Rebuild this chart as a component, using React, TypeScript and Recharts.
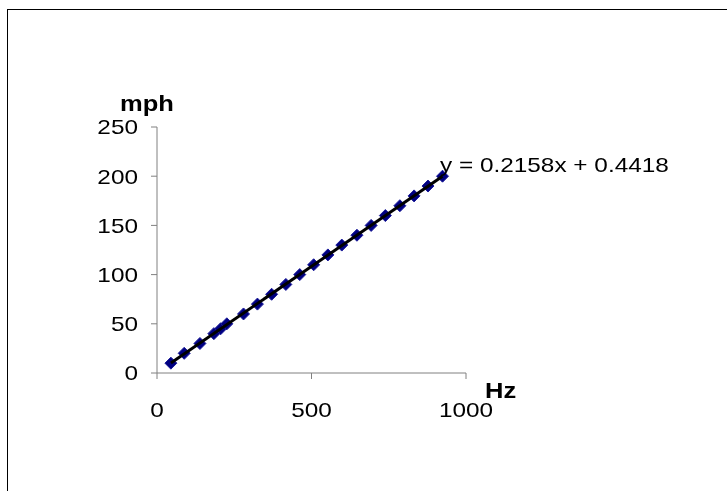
import React from 'react';
import { ScatterChart, Scatter, XAxis, YAxis } from 'recharts';

const hzValues = [45, 88, 139, 184, 206, 226, 280, 325, 371, 417, 462, 507, 553, 598, 647, 693, 739, 786, 832, 877, 924];
const mphValues = [10, 20, 30, 40, 45, 50, 60, 70, 80, 90, 100, 110, 120, 130, 140, 150, 160, 170, 180, 190, 200];
const xTicks = [0, 500, 1000];
const yTicks = [0, 50, 100, 150, 200, 250];
const trendSlope = 0.2158;
const trendIntercept = 0.4418;
const equationText = 'y = 0.2158x + 0.4418';
const xTitle = 'Hz';
const yTitle = 'mph';

const points = hzValues.map((x, i) => ({ x, y: mphValues[i] }));
const xMin = Math.min(...hzValues);
const xMax = Math.max(...hzValues);
const trend = [
  { x: xMin, y: trendSlope * xMin + trendIntercept },
  { x: xMax, y: trendSlope * xMax + trendIntercept },
];

const FONT = '"Liberation Sans", Arial, sans-serif';
const SX = 1.16;

const Diamond = (p: any) => {
  const { cx, cy } = p;
  if (cx == null || cy == null) return <g />;
  const r = 6;
  return (
    <polygon
      points={`${cx},${cy - r} ${cx + r},${cy} ${cx},${cy + r} ${cx - r},${cy}`}
      fill="#000080"
      stroke="#1a1a99"
      strokeWidth={1}
    />
  );
};

const YTick = (p: any) => {
  const { x, y, payload } = p;
  return (
    <g transform={`translate(${x},${y}) scale(${SX},1)`}>
      <text x={0} y={0} dy="0.355em" textAnchor="end" fontSize={21} fontFamily={FONT} fill="#000">
        {payload.value}
      </text>
    </g>
  );
};

const XTick = (p: any) => {
  const { x, y, payload } = p;
  return (
    <g transform={`translate(${x},${y}) scale(${SX},1)`}>
      <text x={0} y={0} dy="0.71em" textAnchor="middle" fontSize={21} fontFamily={FONT} fill="#000">
        {payload.value}
      </text>
    </g>
  );
};

export default function App() {
  return (
    <div style={{ position: 'relative', width: 719, height: 483, marginTop: 2 }}>
      <div
        style={{
          position: 'fixed',
          left: 7,
          top: 9,
          width: 900,
          height: 700,
          borderTop: '1px solid #000',
          borderLeft: '1px solid #000',
          pointerEvents: 'none',
        }}
      />
      <ScatterChart width={719} height={482} margin={{ top: 117, right: 261, bottom: 79, left: 89 }}>
        <XAxis
          type="number"
          dataKey="x"
          domain={[0, 1000]}
          ticks={xTicks}
          height={40}
          tickSize={6}
          tickMargin={23}
          axisLine={{ stroke: '#808080' }}
          tickLine={{ stroke: '#808080' }}
          tick={<XTick />}
          allowDataOverflow
        />
        <YAxis
          type="number"
          dataKey="y"
          domain={[0, 250]}
          ticks={yTicks}
          width={60}
          tickSize={6}
          tickMargin={13}
          axisLine={{ stroke: '#808080' }}
          tickLine={{ stroke: '#808080' }}
          tick={<YTick />}
          allowDataOverflow
        />
        <Scatter data={points} shape={<Diamond />} isAnimationActive={false} />
        <Scatter
          data={trend}
          line={{ stroke: '#000', strokeWidth: 3 }}
          shape={() => <g />}
          isAnimationActive={false}
        />
      </ScatterChart>
      <svg
        width={719}
        height={482}
        style={{ position: 'absolute', left: 0, top: 0, pointerEvents: 'none' }}
      >
        <g transform={`translate(139,100.7) scale(${SX},1)`}>
          <text textAnchor="middle" fontSize={22} fontWeight="bold" fontFamily={FONT} fill="#000">
            {yTitle}
          </text>
        </g>
        <g transform={`translate(477,388.3) scale(${SX},1)`}>
          <text textAnchor="start" fontSize={22} fontWeight="bold" fontFamily={FONT} fill="#000">
            {xTitle}
          </text>
        </g>
        <g transform={`translate(432,162) scale(${SX},1)`}>
          <text textAnchor="start" fontSize={21} fontFamily={FONT} fill="#000">
            {equationText}
          </text>
        </g>
      </svg>
    </div>
  );
}
